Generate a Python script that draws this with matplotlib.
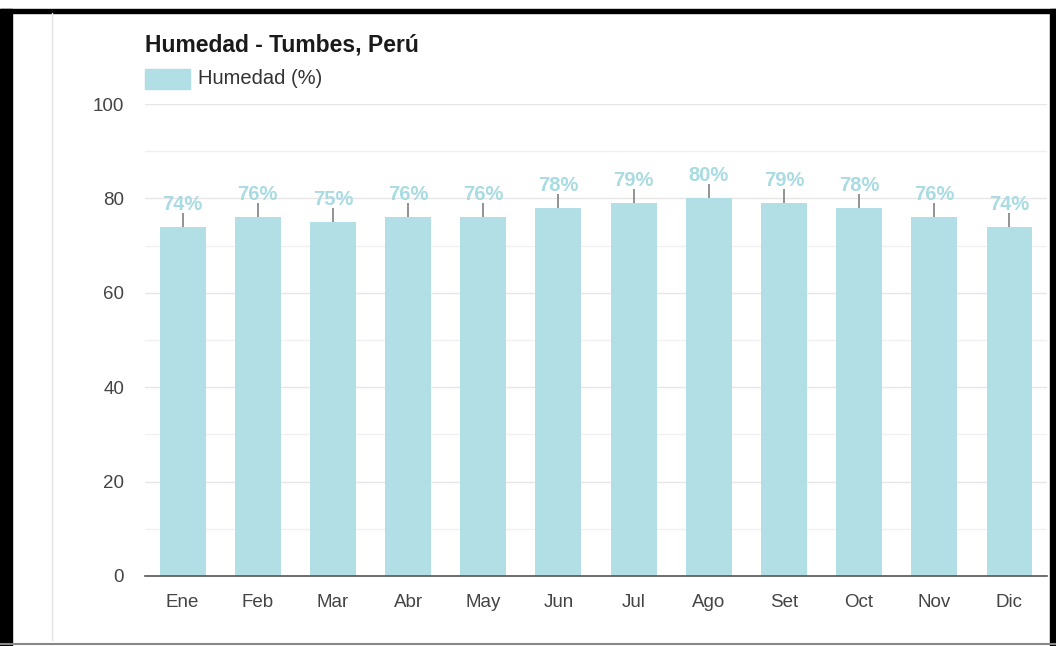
import matplotlib.pyplot as plt
from matplotlib.lines import Line2D
from matplotlib.patches import Rectangle

# Data
meses = ['Ene', 'Feb', 'Mar', 'Abr', 'May', 'Jun', 'Jul', 'Ago', 'Set', 'Oct', 'Nov', 'Dic']
humedad = [74, 76, 75, 76, 76, 78, 79, 80, 79, 78, 76, 74]
err_sup = [3, 3, 3, 3, 3, 3, 3, 3, 3, 3, 3, 3]

bar_color = '#b2dfe5'
label_color = '#a9dbe2'
text_color = '#444444'

plt.rcParams['font.family'] = ['Liberation Sans', 'DejaVu Sans']

fig = plt.figure(figsize=(10.56, 6.46), dpi=100)
ax = fig.add_axes([0.1373, 0.1084, 0.8542, 0.7306])

x = range(len(meses))
ax.bar(x, humedad, width=0.61, color=bar_color, zorder=2, label='Humedad (%)')
ax.errorbar(x, humedad, yerr=[[0] * len(err_sup), err_sup], fmt='none',
            ecolor='#8a8a8a', elinewidth=1.3, capsize=0, zorder=3)

for i, v in enumerate(humedad):
    ax.text(i, v + 2.8, f'{v}%', ha='center', va='bottom', fontsize=14.5,
            fontweight='bold', color=label_color, zorder=4)

ax.set_xlim(-0.5, 11.5)
ax.set_ylim(0, 100)
ax.set_yticks(range(0, 101, 20))
ax.set_yticks(range(10, 100, 20), minor=True)
ax.set_xticks(list(x))
ax.set_xticklabels(meses)
ax.grid(axis='y', which='major', color='#e6e6e6', linewidth=1, zorder=0)
ax.grid(axis='y', which='minor', color='#f0f0f0', linewidth=1, zorder=0)
ax.tick_params(axis='both', which='both', length=0, labelsize=13.5, labelcolor=text_color)
ax.tick_params(axis='y', pad=15)
ax.tick_params(axis='x', pad=13)
for s in ['top', 'right', 'left']:
    ax.spines[s].set_visible(False)
ax.spines['bottom'].set_color('#555555')
ax.spines['bottom'].set_linewidth(1.2)
ax.spines['bottom'].set_zorder(5)

# Title and legend
fig.text(145 / 1056, 1 - 45 / 646, 'Humedad - Tumbes, Perú', fontsize=16.5,
         fontweight='bold', color='#1a1a1a', va='center', ha='left')
fig.patches.append(Rectangle((145 / 1056, 1 - 89 / 646), 45 / 1056, 20 / 646,
                             transform=fig.transFigure, color=bar_color))
fig.text(198 / 1056, 1 - 79 / 646, 'Humedad (%)', fontsize=14.5, color='#333333',
         va='center', ha='left')

# Frame of the screenshot
fig.patches.append(Rectangle((0, 0), 12 / 1056, 1 - 9 / 646, transform=fig.transFigure,
                             color='black'))
fig.patches.append(Rectangle((0, 1 - 13 / 646), 1, 4 / 646, transform=fig.transFigure,
                             color='black'))
fig.patches.append(Rectangle((1050 / 1056, 0), 6 / 1056, 1 - 9 / 646,
                             transform=fig.transFigure, color='black'))
fig.lines.append(Line2D([0, 1], [1 - 644 / 646] * 2, transform=fig.transFigure,
                        color='#888888', linewidth=1.5))
fig.lines.append(Line2D([52 / 1056] * 2, [1 - 640 / 646, 1 - 13 / 646],
                        transform=fig.transFigure, color='#e2e2e2', linewidth=1))

fig.savefig('out.png', dpi=100)
